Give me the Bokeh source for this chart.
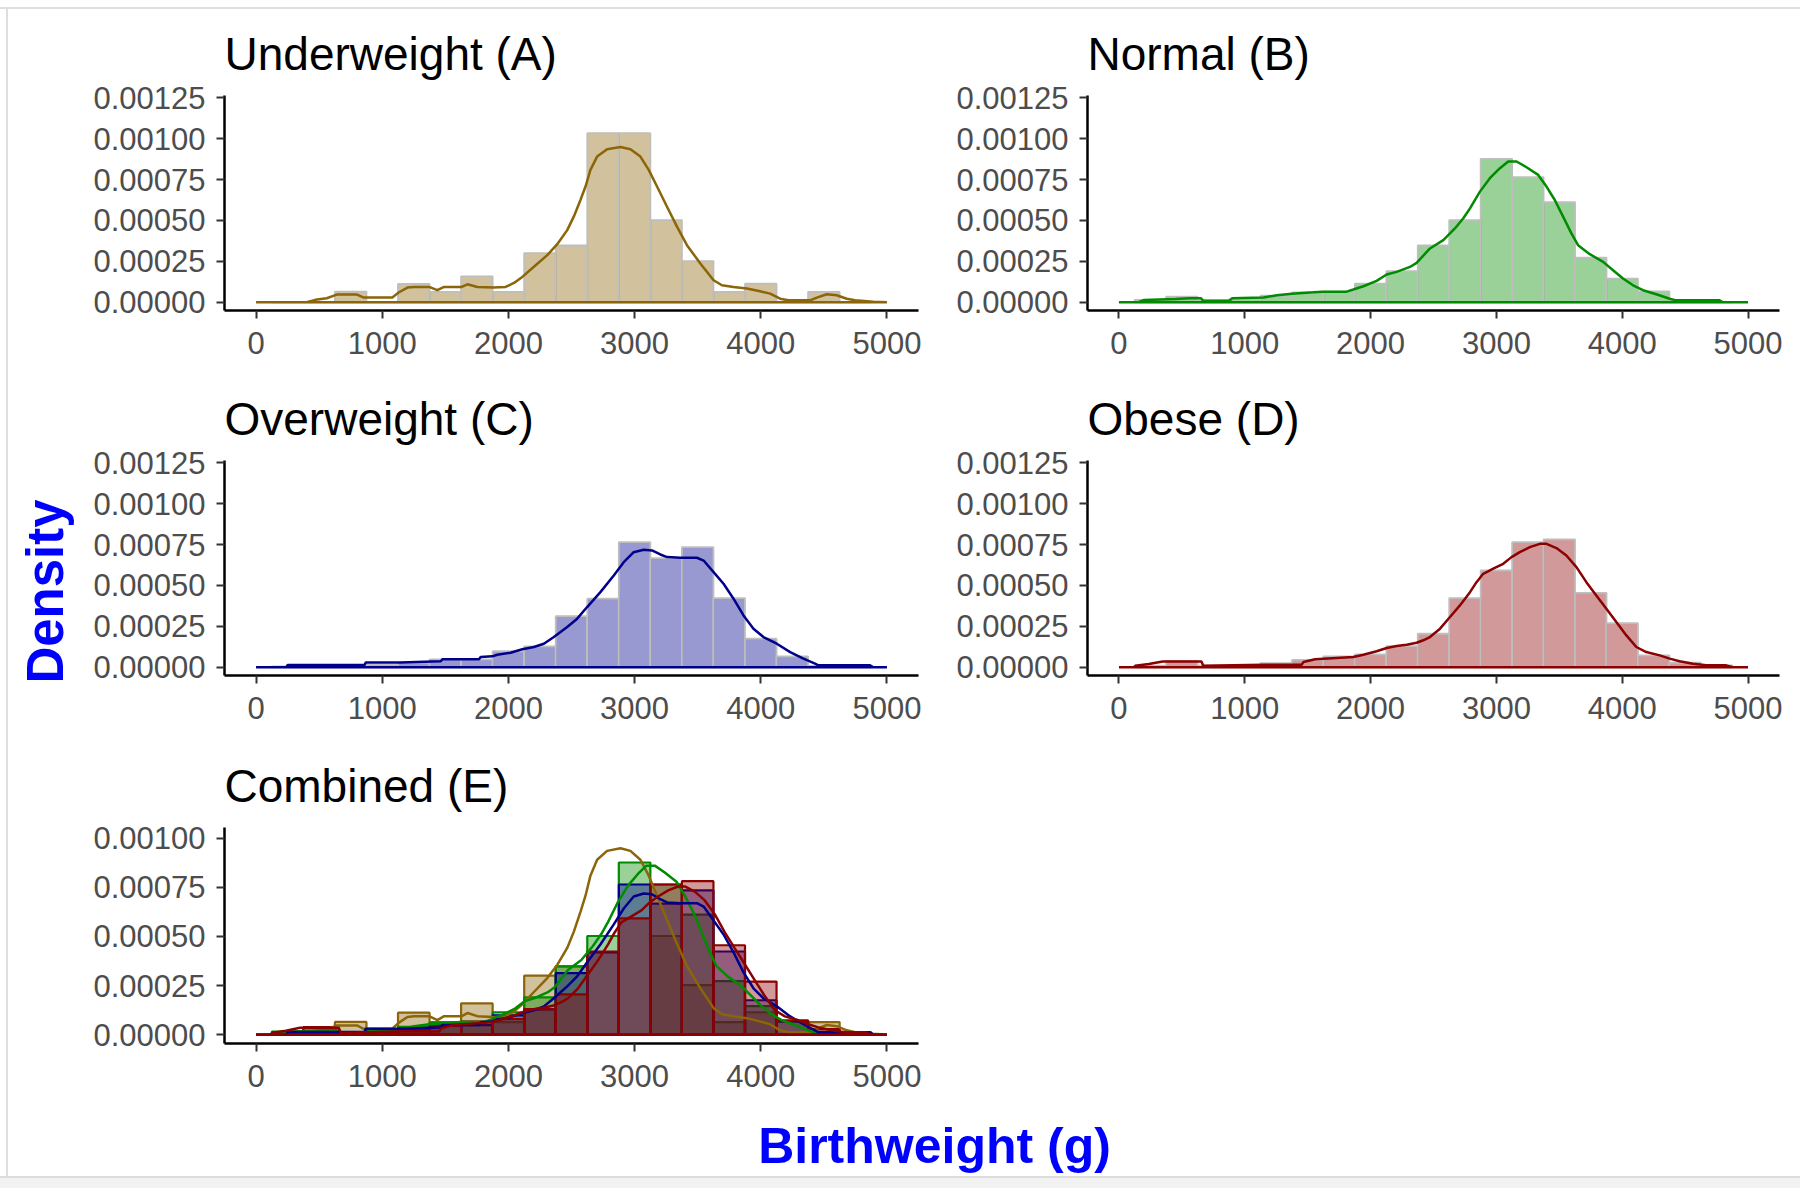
from math import pi
from bokeh.plotting import figure
from bokeh.models import Range1d, FixedTicker, PrintfTickFormatter, Label
from bokeh.layouts import row, column
from bokeh.embed import file_html
from bokeh.resources import INLINE

FONT = "Liberation Sans"
UNIT = 1e-5  # density values below are given in units of 1e-5

# ---------------- data ----------------
BIN_CENTERS = [250, 500, 750, 1000, 1250, 1500, 1750, 2000, 2250, 2500,
               2750, 3000, 3250, 3500, 3750, 4000, 4250, 4500, 4750]
BIN_WIDTH = 250

HIST_A = [0, 0, 6.5, 0, 11.2, 6.4, 15.9, 6.4, 30.0, 34.7,
          103.3, 103.3, 50.2, 25.2, 6.4, 11.4, 0, 6.4, 0]
HIST_B = [1.5, 3.5, 1.2, 2.0, 4.0, 6.0, 6.5, 11.4, 19.0, 34.7,
          50.2, 87.6, 76.4, 61.1, 27.2, 14.5, 6.7, 1.2, 0]
HIST_C = [0.5, 1.0, 1.0, 1.5, 2.9, 4.9, 4.9, 9.8, 12.8, 31.3,
          41.9, 76.4, 66.7, 73.4, 42.3, 17.5, 6.7, 0.8, 0.5]
HIST_D = [1.0, 3.9, 1.0, 1.0, 2.5, 4.5, 6.7, 7.9, 13.0, 20.5,
          42.3, 59.2, 76.4, 78.1, 45.5, 27.0, 7.3, 2.8, 1.2]

DENS_A_X = [0, 400, 470, 560, 640, 800, 850, 1080, 1130, 1200, 1253, 1371, 1437, 1490,
            1630, 1675, 1754, 1880, 1978, 2044, 2110, 2202, 2308, 2387, 2466, 2518,
            2571, 2611, 2650, 2703, 2782, 2888, 2967, 3046, 3112, 3178, 3257, 3336,
            3415, 3521, 3626, 3692, 3784, 3890, 3995, 4074, 4153, 4219, 4391, 4444,
            4523, 4602, 4681, 4747, 4892, 5000]
DENS_A_Y = [0, 0, 1.5, 2.5, 4.7, 4.7, 3.0, 3.0, 6.0, 9.0, 9.4, 9.4, 7.4, 9.4,
            9.4, 11.0, 9.4, 9.0, 9.4, 11.8, 15.5, 21.7, 28.8, 35.5, 44.1, 52.3,
            62.5, 70.7, 80.9, 89.0, 93.5, 94.8, 93.5, 89.0, 80.9, 70.7, 58.4, 46.2,
            34.9, 23.7, 13.5, 10.4, 9.4, 8.4, 6.7, 5.3, 2.2, 1.2, 1.2, 2.9,
            4.9, 4.3, 2.2, 1.2, 0.4, 0]

DENS_B_X = [0, 150, 200, 450, 560, 650, 670, 880, 900, 1149, 1255, 1374, 1546, 1620,
            1810, 1863, 1943, 2048, 2128, 2207, 2313, 2366, 2472, 2578, 2670, 2737,
            2790, 2869, 2948, 3028, 3094, 3160, 3239, 3332, 3398, 3464, 3530, 3596,
            3649, 3742, 3848, 3927, 4006, 4086, 4165, 4271, 4377, 4430, 4774, 4800, 5000]
DENS_B_Y = [0, 0, 1.4, 2.0, 2.5, 2.5, 1.0, 1.0, 2.5, 2.9, 4.3, 5.3, 6.1, 6.5,
            6.5, 7.8, 9.8, 13.1, 17.0, 18.6, 21.6, 24.1, 32.9, 38.0, 45.1, 51.3,
            57.4, 67.6, 75.8, 81.9, 86.0, 86.0, 82.5, 77.8, 70.7, 62.5, 52.3, 42.1,
            34.9, 29.4, 24.7, 19.6, 14.5, 10.4, 7.4, 4.9, 2.2, 1.2, 1.2, 0, 0]

DENS_C_X = [0, 240, 250, 860, 870, 1147, 1464, 1477, 1767, 1780, 1872, 1912, 2017,
            2110, 2202, 2281, 2360, 2466, 2545, 2624, 2729, 2835, 2914, 2993, 3072,
            3138, 3204, 3257, 3362, 3494, 3547, 3626, 3705, 3784, 3863, 3942, 4021,
            4127, 4233, 4338, 4430, 4457, 4866, 4892, 5000]
DENS_C_Y = [0, 0, 1.4, 1.4, 3.0, 3.0, 3.7, 4.9, 4.9, 6.3, 6.7, 7.7, 8.9,
            11.0, 12.4, 14.4, 18.5, 24.6, 29.7, 36.8, 45.9, 56.1, 64.2, 70.3, 71.8,
            71.4, 68.9, 67.3, 66.9, 66.9, 65.2, 58.1, 51.0, 41.9, 31.7, 23.6, 18.5,
            14.4, 9.3, 5.3, 2.2, 1.2, 1.2, 0, 0]

DENS_D_X = [0, 120, 130, 237, 348, 656, 670, 1149, 1453, 1467, 1559, 1863, 1943,
            2048, 2128, 2207, 2287, 2366, 2419, 2472, 2552, 2631, 2710, 2790, 2842,
            2895, 2975, 3054, 3120, 3186, 3266, 3345, 3398, 3477, 3556, 3636, 3715,
            3794, 3874, 3953, 4033, 4112, 4191, 4298, 4377, 4456, 4562, 4668, 4826,
            4879, 5000]
DENS_D_Y = [0, 0, 1.0, 2.0, 3.5, 3.5, 1.0, 1.6, 1.6, 3.3, 4.9, 6.3, 7.7,
            9.8, 11.8, 13.0, 13.8, 15.0, 16.5, 18.5, 23.6, 30.7, 37.8, 45.9, 52.0,
            57.1, 60.2, 63.2, 67.3, 70.3, 73.4, 75.4, 75.4, 72.8, 68.3, 61.2, 52.0,
            43.9, 35.8, 27.6, 19.5, 12.4, 9.3, 7.3, 5.3, 3.7, 2.2, 1.2, 1.2,
            0, 0]

TITLES = ["Underweight (A)", "Normal (B)", "Overweight (C)", "Obese (D)"]
COLORS = ["#8B6508", "#008B00", "#00008B", "#8B0000"]
HISTS = [HIST_A, HIST_B, HIST_C, HIST_D]
DENS = [(DENS_A_X, DENS_A_Y), (DENS_B_X, DENS_B_Y),
        (DENS_C_X, DENS_C_Y), (DENS_D_X, DENS_D_Y)]

X_TICKS = [0, 1000, 2000, 3000, 4000, 5000]
Y_TICKS = [0, 0.00025, 0.0005, 0.00075, 0.001, 0.00125]
Y_TICKS_E = [0, 0.00025, 0.0005, 0.00075, 0.001]
X_LIMITS = (-250, 5250)
Y_LIMITS = (-0.00005, 0.001263)
E_Y_LIMIT_MAX = 0.001          # bars above this limit are dropped in panel E
Y_LIMITS_E = (-0.000045, 0.001054)


def style(p, yticks):
    p.grid.visible = False
    p.outline_line_color = None
    p.background_fill_color = "white"
    p.border_fill_alpha = 0
    for ax in (p.xaxis[0], p.yaxis[0]):
        ax.axis_line_width = 2.5
        ax.axis_line_color = "black"
        ax.major_tick_line_color = "#333333"
        ax.major_tick_line_width = 2
        ax.major_tick_out = 8
        ax.major_tick_in = 0
        ax.minor_tick_line_color = None
        ax.major_label_text_font = FONT
        ax.major_label_text_font_size = "31px"
        ax.major_label_text_color = "#4D4D4D"
    p.xaxis.major_label_standoff = 13
    p.yaxis.major_label_standoff = 11
    p.xaxis.ticker = FixedTicker(ticks=X_TICKS)
    p.yaxis.ticker = FixedTicker(ticks=yticks)
    p.yaxis.formatter = PrintfTickFormatter(format="%.5f")
    p.title.text_font = FONT
    p.title.text_font_size = "46px"
    p.title.text_font_style = "normal"
    p.title.text_color = "black"
    p.title.align = "left"
    p.title.standoff = 31


def panel(title, ml, mr, mt, mb, fw, fh, ylim, yticks):
    p = figure(title=title, frame_width=fw, frame_height=fh,
               min_border_left=ml, min_border_right=mr,
               min_border_top=mt, min_border_bottom=mb,
               x_range=Range1d(*X_LIMITS), y_range=Range1d(*ylim),
               output_backend="svg", toolbar_location=None)
    style(p, yticks)
    return p


def add_single(p, i):
    tops = [h * UNIT for h in HISTS[i]]
    p.quad(left=[c - BIN_WIDTH / 2 for c in BIN_CENTERS],
           right=[c + BIN_WIDTH / 2 for c in BIN_CENTERS],
           bottom=0, top=tops,
           fill_color=COLORS[i], fill_alpha=0.4, line_color="#BEBEBE", line_width=1.8)
    dx, dy = DENS[i]
    p.patch(dx, [v * UNIT for v in dy], fill_color=None,
            line_color=COLORS[i], line_width=2.5)


# page origin is (0,0); panel geometry for row 1 / row 2 / row 3
pA = panel(TITLES[0], 144, 24, 95, 65, 694, 215, Y_LIMITS, Y_TICKS)
pB = panel(TITLES[1], 145, 21, 95, 65, 692, 215, Y_LIMITS, Y_TICKS)
pC = panel(TITLES[2], 144, 24, 85, 65, 694, 215, Y_LIMITS, Y_TICKS)
pD = panel(TITLES[3], 145, 21, 85, 65, 692, 215, Y_LIMITS, Y_TICKS)
for i, p in enumerate([pA, pB, pC, pD]):
    add_single(p, i)

pE = panel("Combined (E)", 144, 24, 87, 60, 694, 216, Y_LIMITS_E, Y_TICKS_E)
for i in range(4):
    keep = [(c, h * UNIT) for c, h in zip(BIN_CENTERS, HISTS[i]) if h * UNIT <= E_Y_LIMIT_MAX]
    pE.quad(left=[c - BIN_WIDTH / 2 for c, _ in keep],
            right=[c + BIN_WIDTH / 2 for c, _ in keep],
            bottom=0, top=[h for _, h in keep],
            fill_color=COLORS[i], fill_alpha=0.4, line_color=COLORS[i], line_width=2.2)
for i in range(4):
    dx, dy = DENS[i]
    pE.patch(dx, [v * UNIT for v in dy], fill_color=None,
             line_color=COLORS[i], line_width=2.5)


def label_fig(w, h, xr, yr, ml=0):
    f = figure(frame_width=w, frame_height=h, min_border=0,
               min_border_left=ml, min_border_right=0, min_border_top=0, min_border_bottom=0,
               x_range=Range1d(*xr), y_range=Range1d(*yr),
               output_backend="svg", toolbar_location=None)
    f.axis.visible = False
    f.grid.visible = False
    f.outline_line_color = None
    f.background_fill_alpha = 0
    f.border_fill_alpha = 0
    return f


left = label_fig(80, 1188, (0, 80), (1188, 0))
left.add_layout(Label(x=45, y=591, text="Density", angle=pi / 2,
                      text_align="center", text_baseline="middle",
                      text_font=FONT, text_font_size="51px", text_font_style="bold",
                      text_color="#0000FF"))

# frame of the bottom strip starts at page x=224 (aligned with panel E's frame)
bottom = label_fig(1576, 85, (224, 1800), (1188, 1103), ml=144)
bottom.add_layout(Label(x=934, y=1145, text="Birthweight (g)",
                        text_align="center", text_baseline="middle",
                        text_font=FONT, text_font_size="50px", text_font_style="bold",
                        text_color="#0000FF"))

FRAME_BG = ("linear-gradient(#dedede,#dedede) 0 7px / 100% 2px no-repeat, "
            "linear-gradient(#dedede,#dedede) 6px 7px / 2px 1170px no-repeat, "
            "linear-gradient(#dcdcdc,#dcdcdc) 0 1176px / 100% 2px no-repeat, "
            "linear-gradient(#f2f2f2,#f2f2f2) 0 1178px / 100% 10px no-repeat, white")

grid = column(row(pA, pB), row(pC, pD), pE, bottom)
layout = row(left, grid, styles={"background": FRAME_BG})

open("out.html", "w").write(file_html(layout, INLINE))
